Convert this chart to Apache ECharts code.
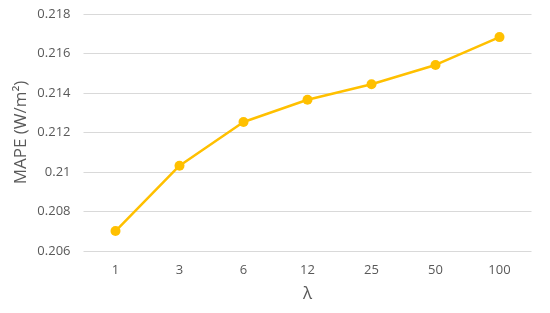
<!DOCTYPE html>
<html>
<head>
<meta charset="utf-8">
<script src="https://cdn.jsdelivr.net/npm/echarts@6/dist/echarts.min.js"></script>
<style>html,body{margin:0;padding:0;background:#fff;}#c{width:550px;height:313px;}</style>
</head>
<body>
<div id="c"></div>
<script>
const categories = ['1', '3', '6', '12', '25', '50', '100'];
const mapeValues = [0.20701, 0.21032, 0.21253, 0.21366, 0.21444, 0.21542, 0.21683];
const yTicks = { min: 0.206, max: 0.218, interval: 0.002 };

const chart = echarts.init(document.getElementById('c'), null, { renderer: 'canvas' });
chart.setOption({
  animation: false,
  grid: { left: 83.5, right: 18.5, top: 14, bottom: 62 },
  xAxis: {
    type: 'category',
    data: categories,
    boundaryGap: true,
    name: 'λ',
    nameLocation: 'middle',
    nameGap: 35,
    nameMoveOverlap: false,
    nameTextStyle: { fontFamily: 'Open Sans', fontSize: 17, color: '#595959' },
    axisLine: { show: false },
    axisTick: { show: false },
    axisLabel: { fontFamily: 'Open Sans', fontSize: 13, color: '#595959', margin: 13 }
  },
  yAxis: {
    type: 'value',
    min: yTicks.min,
    max: yTicks.max,
    interval: yTicks.interval,
    name: 'MAPE (W/m²)',
    nameLocation: 'middle',
    nameGap: 54,
    nameRotate: 90,
    nameMoveOverlap: false,
    nameTextStyle: { fontFamily: 'Open Sans', fontSize: 17, color: '#595959' },
    axisLine: { show: false },
    axisTick: { show: false },
    axisLabel: { fontFamily: 'Open Sans', fontSize: 13, color: '#595959', margin: 13 },
    splitLine: { lineStyle: { color: '#d9d9d9', width: 1 } }
  },
  series: [{
    type: 'line',
    data: mapeValues,
    symbol: 'circle',
    symbolSize: 10,
    itemStyle: { color: '#FFC000' },
    lineStyle: { color: '#FFC000', width: 2.5 }
  }]
});
</script>
</body>
</html>
